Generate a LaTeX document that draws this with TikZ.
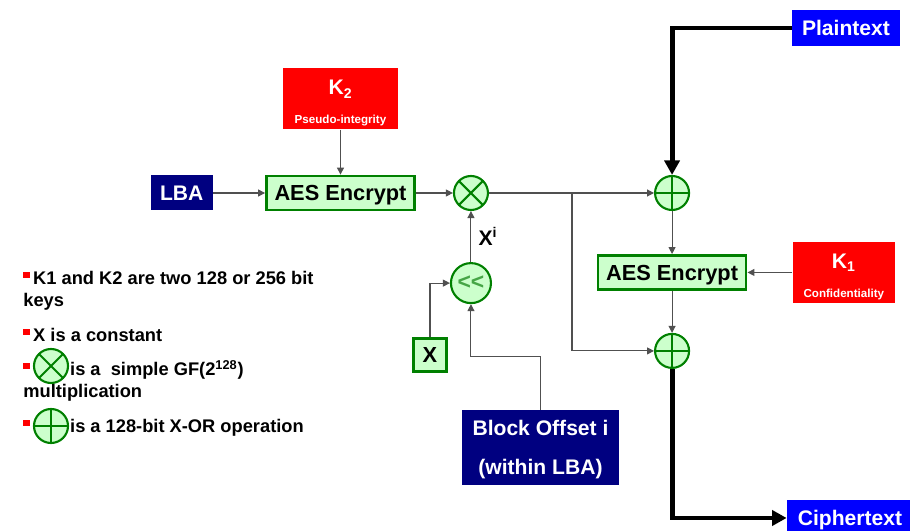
\documentclass[tikz,border=0pt]{standalone}
\usepackage{fontspec}
\setmainfont{Liberation Sans}
\usetikzlibrary{positioning,arrows.meta,calc}
\definecolor{EncGreen}{RGB}{0,128,0}
\definecolor{EncMint}{RGB}{204,255,204}
\definecolor{EncShift}{RGB}{70,165,70}
\definecolor{EncNavy}{RGB}{0,0,128}
\definecolor{EncBlue}{RGB}{0,0,255}
\definecolor{EncRed}{RGB}{255,0,0}
\definecolor{EncWire}{RGB}{80,80,80}
\newcommand{\legbullet}{\textcolor{EncRed}{\rule[3.8pt]{4pt}{3.6pt}}\kern1.6pt}
\newcommand{\keystrut}{\rule{0pt}{12.2pt}}
\tikzset{
  enc box/.style={
    draw=EncGreen,
    line width=1.6pt,
    fill=EncMint,
    inner sep=0pt,
    font=\fontsize{12.4}{14}\selectfont\bfseries,
    text height=8.9pt, text depth=0pt,
    minimum height=0.68cm
  },
  enc aes/.style={enc box, minimum width=2.96cm},
  enc dark/.style={fill=EncNavy, text=white, inner sep=0pt, align=center, text depth=0pt, font=\fontsize{12}{14}\selectfont\bfseries},
  enc io/.style={fill=EncBlue, text=white, inner sep=0pt, font=\fontsize{12}{14}\selectfont\bfseries, text height=8.6pt, text depth=0pt, minimum height=0.72cm},
  enc key/.style={fill=EncRed, text=white, inner sep=0pt, align=center, text depth=0pt, minimum height=1.22cm, font=\fontsize{6.6}{16.5}\selectfont\bfseries},
  enc op/.style={circle, draw=EncGreen, line width=1.2pt, fill=EncMint, inner sep=0pt, minimum size=0.68cm},
  enc mul/.style={enc op, path picture={
    \draw[EncGreen, line width=1.2pt] (path picture bounding box.north west)--(path picture bounding box.south east)
      (path picture bounding box.north east)--(path picture bounding box.south west);}},
  enc xor/.style={enc op, path picture={
    \draw[EncGreen, line width=1.2pt] (path picture bounding box.north)--(path picture bounding box.south)
      (path picture bounding box.east)--(path picture bounding box.west);}},
  enc wire/.style={-{Triangle[length=1.4mm,width=1.4mm]}, EncWire, line width=0.6pt},
  enc bus/.style={-{Triangle[length=2.9mm,width=3mm]}, black, line width=2.8pt},
  enc legend/.style={anchor=base west, align=left, inner sep=0pt, font=\fontsize{10.4}{12.6}\selectfont\bfseries},
  enc label/.style={font=\fontsize{12}{14}\selectfont\bfseries, text=black, inner sep=4pt}
}

\begin{document}
\begin{tikzpicture}[node distance=1cm]
\useasboundingbox (0,0) rectangle (18.2,10.62);
% upper chain
\node[enc aes] (aesa) at (6.81,6.76) {AES Encrypt};
\node[enc dark, minimum width=1.24cm, minimum height=0.7cm, text height=8.6pt, left=1.04cm of aesa] (lba) {LBA};
\node[enc key, minimum width=2.3cm, above=0.9cm of aesa] (ktwo) {{\fontsize{12}{16.5}\selectfont\keystrut K\textsubscript{2}}\\Pseudo-integrity};
\node[enc mul, right=0.74cm of aesa] (mul) {};
\node[enc op, minimum size=0.8cm, below=1.02cm of mul, font=\fontsize{13}{14}\selectfont\bfseries] (shift) {\textcolor{EncShift}{<{}<}};
\node[enc box, minimum width=0.66cm, minimum height=0.66cm] (xc) at (8.60,3.52) {X};
\node[enc dark, minimum width=3.14cm, minimum height=1.5cm, font=\fontsize{12}{22}\selectfont\bfseries] (blk) at (10.81,1.67) {Block Offset i\\(within LBA)};
% right column
\node[enc xor, right=3.3cm of mul] (xora) {};
\node[enc aes, below=0.86cm of xora] (aesb) {AES Encrypt};
\node[enc xor, below=0.84cm of aesb] (xorb) {};
\node[enc key, minimum width=2.04cm, right=0.9cm of aesb] (kone) {{\fontsize{12}{16.5}\selectfont\keystrut K\textsubscript{1}}\\Confidentiality};
\node[enc io, minimum width=2.16cm] (pt) at (16.92,10.06) {Plaintext};
\node[enc io, minimum width=2.52cm] (ct) at (17.0,0.26) {Ciphertext};
\coordinate (br) at (11.44,6.76);
% legend (multi-line nodes sit on their last baseline)
\node[enc legend] (legk) at (0.46,4.48) {\legbullet K1 and K2 are two 128 or 256 bit\\keys};
\node[enc legend] (legx) at (0.46,3.78) {\legbullet X is a constant};
\node[enc legend] (legm) at (0.46,2.66) {\legbullet\hspace{0.74cm}is a\ \ simple GF(2\textsuperscript{128})\\multiplication};
\node[enc legend] (legp) at (0.46,1.96) {\legbullet\hspace{0.74cm}is a 128-bit X-OR operation};
\node[enc mul] (symm) at (1.02,3.30) {};
\node[enc xor] (symp) at (1.02,2.10) {};
% connectors
\draw[enc wire] (lba) -- (aesa);
\draw[enc wire] (ktwo) -- (aesa);
\draw[enc wire] (aesa) -- (mul);
\draw[enc wire] (shift) -- node[enc label, right, name=xi] {X\textsuperscript{i}} (mul);
\draw[enc wire] (xc.north) |- (shift.west);
\draw[enc wire] (blk.north) -- ++(0,1.06) -| (shift.south);
\draw[enc wire] (mul) -- (xora);
\draw[enc wire] (br) |- (xorb);
\draw[enc wire] (xora) -- (aesb);
\draw[enc wire] (aesb) -- (xorb);
\draw[enc wire] (kone) -- (aesb);
\draw[enc bus] (pt.west) -| (xora.north);
\draw[enc bus] (xorb.south) |- (ct.west);
\end{tikzpicture}
\end{document}
